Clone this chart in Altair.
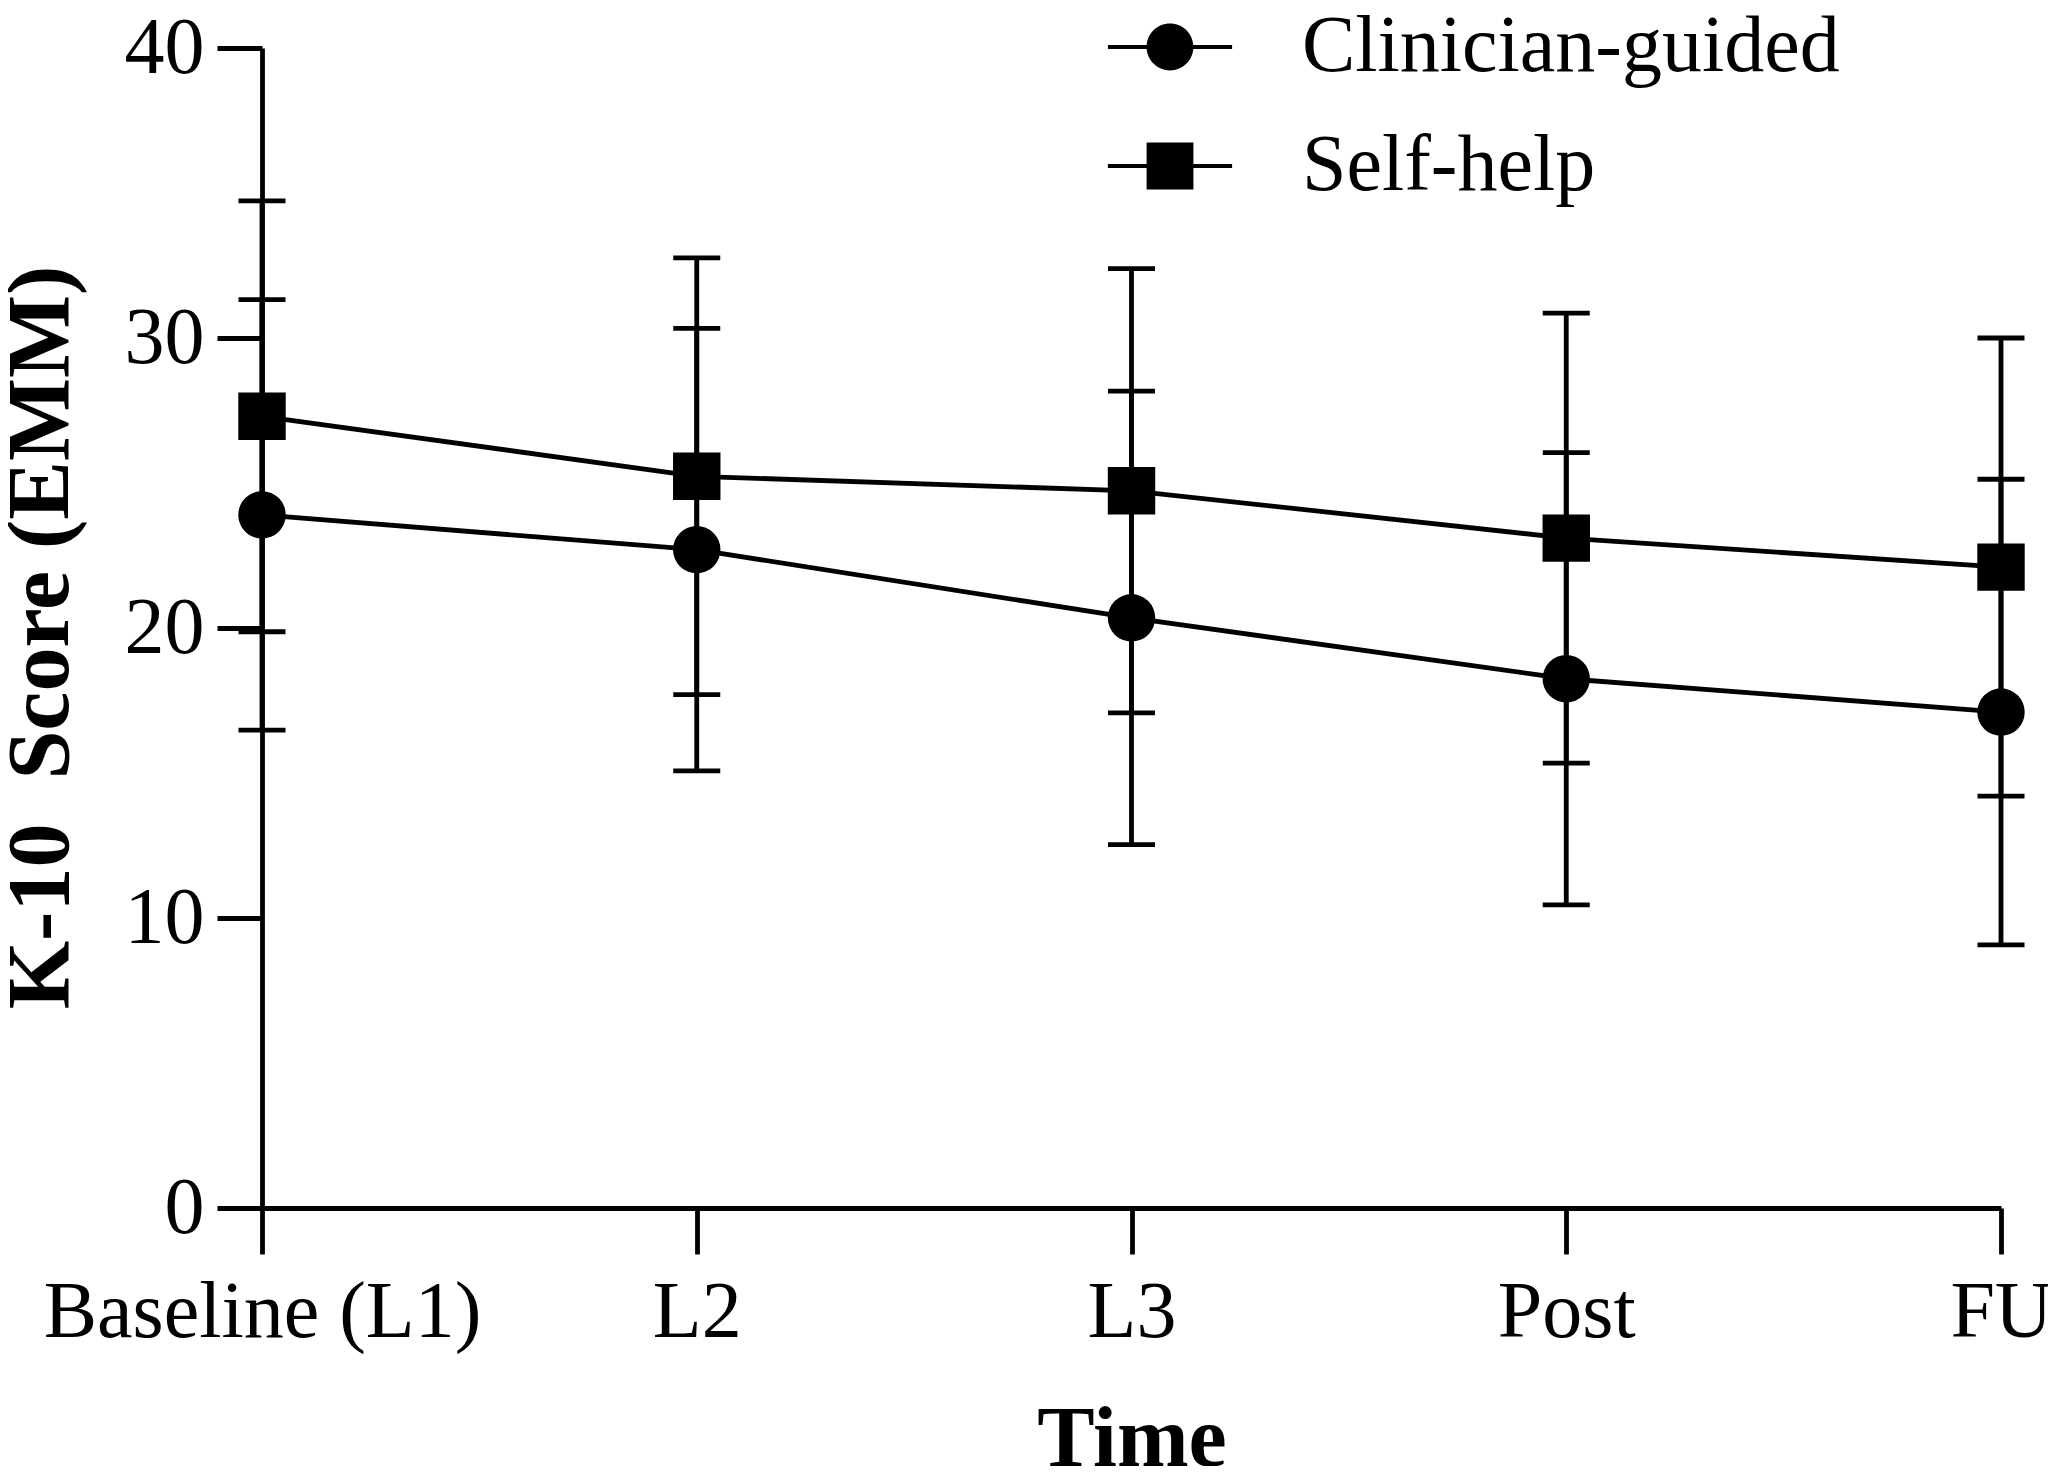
import altair as alt
import pandas as pd

times = ["Baseline (L1)", "L2", "L3", "Post", "FU"]
groups = ["Clinician-guided", "Self-help"]
clin_mean = [23.9, 22.7, 20.35, 18.25, 17.1]
clin_err = [7.42, 7.63, 7.82, 7.8, 8.03]
self_mean = [27.3, 25.23, 24.73, 23.1, 22.1]
self_err = [7.43, 7.53, 7.66, 7.76, 7.9]

rows = []
for g, means, errs in [(groups[0], clin_mean, clin_err), (groups[1], self_mean, self_err)]:
    for t, m, e in zip(times, means, errs):
        rows.append({"Time": t, "Group": g, "EMM": m, "SE": e})
df = pd.DataFrame(rows)

FONT = "Liberation Serif"
LW = 4.8

base = alt.Chart(df).transform_calculate(
    lo="datum.EMM - datum.SE", hi="datum.EMM + datum.SE"
)

x_axis = alt.Axis(
    title="Time", labelAngle=0, tickSize=46, tickWidth=LW, domainWidth=5,
    labelFont=FONT, labelFontSize=80, labelPadding=19, labelOverlap=False,
    labelFlush=False, labelLimit=0, titleFont=FONT, titleFontSize=86,
    titleFontWeight="bold", titleY=257, titleBaseline="alphabetic",
)
y_axis = alt.Axis(
    title="K-10\u00a0\u00a0Score (EMM)", values=[0, 10, 20, 30, 40], tickSize=45,
    tickWidth=LW, domainWidth=LW, labelFont=FONT, labelFontSize=80,
    labelPadding=13, grid=False, titleFont=FONT, titleFontSize=88,
    titleFontWeight="bold", titleAngle=270, titleX=-195, titleY=589,
    titleAlign="center", titleBaseline="alphabetic",
)
x = alt.X("Time:N", sort=times, scale=alt.Scale(type="point", padding=0), axis=x_axis)
yscale = alt.Scale(domain=[0, 40], nice=False)


def Y(field):
    return alt.Y(field, scale=yscale, axis=y_axis)


lines = base.mark_line(color="black", strokeWidth=LW).encode(
    x=x, y=Y("EMM:Q"), detail="Group:N"
)
rules = base.mark_rule(color="black", strokeWidth=LW).encode(
    x=x, y=Y("lo:Q"), y2="hi:Q"
)
caps_lo = base.mark_tick(color="black", opacity=1, orient="horizontal", size=47, thickness=LW).encode(
    x=x, y=Y("lo:Q")
)
caps_hi = base.mark_tick(color="black", opacity=1, orient="horizontal", size=47, thickness=LW).encode(
    x=x, y=Y("hi:Q")
)
points = base.mark_point(filled=True, size=2250, color="black", opacity=1, strokeWidth=0).encode(
    x=x, y=Y("EMM:Q"),
    shape=alt.Shape("Group:N", scale=alt.Scale(domain=groups, range=["circle", "square"]), legend=None),
)

# legend glyphs: filled bar (the line) + filled marker, all wound clockwise
bar = "M-2.07,-0.07L2.07,-0.07L2.07,0.07L-2.07,0.07Z"
circle_path = bar + "M0.78,0A0.78,0.78,0,1,1,-0.78,0A0.78,0.78,0,1,1,0.78,0Z"
square_path = bar + "M-0.78,-0.78L0.78,-0.78L0.78,0.78L-0.78,0.78Z"
legend_layer = base.mark_point(
    filled=False, opacity=0, size=3600, color="black", fill="black", stroke="black", strokeWidth=LW
).encode(
    x=x, y=Y("EMM:Q"),
    shape=alt.Shape(
        "Group:N",
        scale=alt.Scale(domain=groups, range=[circle_path, square_path]),
        legend=alt.Legend(
            title=None, orient="none", legendX=868, legendY=-41, padding=0,
            labelFont=FONT, labelFontSize=80, labelColor="black", labelOffset=92,
            labelLimit=0, rowPadding=39, symbolSize=3600, symbolFillColor="black",
            symbolStrokeColor="black", symbolStrokeWidth=LW, symbolOpacity=1,
        ),
    ),
)

chart = (
    alt.layer(lines, rules, caps_lo, caps_hi, points, legend_layer)
    .resolve_scale(shape="independent")
    .properties(
        width=1739, height=1160,
        padding={"left": 254, "top": 40, "right": 47, "bottom": 258},
        autosize=alt.AutoSizeParams(type="none"),
    )
    .configure_view(stroke=None)
    .configure_axis(domainColor="black", tickColor="black", labelColor="black", titleColor="black")
)

chart.save("out.html", embed_options={"renderer": "svg", "actions": False})
